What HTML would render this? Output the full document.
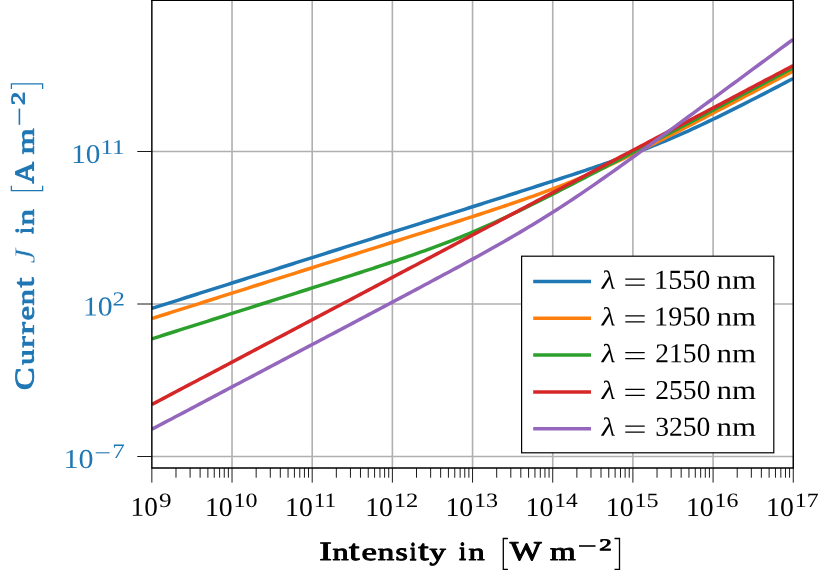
<!DOCTYPE html>
<html lang="en"><head><meta charset="utf-8"><title>chart</title><style>html,body{margin:0;padding:0;background:#fff}svg{display:block;will-change:transform}</style></head><body>
<svg width="831" height="580" viewBox="0 0 831 580" font-family="&quot;Liberation Serif&quot;, serif">
<rect width="831" height="580" fill="#fff"/>
<line x1="232.02" y1="0" x2="232.02" y2="468.0" stroke="#b0b0b0" stroke-width="1.6"/>
<line x1="312.20" y1="0" x2="312.20" y2="468.0" stroke="#b0b0b0" stroke-width="1.6"/>
<line x1="392.38" y1="0" x2="392.38" y2="468.0" stroke="#b0b0b0" stroke-width="1.6"/>
<line x1="472.55" y1="0" x2="472.55" y2="468.0" stroke="#b0b0b0" stroke-width="1.6"/>
<line x1="552.73" y1="0" x2="552.73" y2="468.0" stroke="#b0b0b0" stroke-width="1.6"/>
<line x1="632.90" y1="0" x2="632.90" y2="468.0" stroke="#b0b0b0" stroke-width="1.6"/>
<line x1="713.08" y1="0" x2="713.08" y2="468.0" stroke="#b0b0b0" stroke-width="1.6"/>
<line x1="151.85" y1="151.5" x2="793.25" y2="151.5" stroke="#b0b0b0" stroke-width="1.6"/>
<line x1="151.85" y1="304.0" x2="793.25" y2="304.0" stroke="#b0b0b0" stroke-width="1.6"/>
<line x1="151.85" y1="456.5" x2="793.25" y2="456.5" stroke="#b0b0b0" stroke-width="1.6"/>
<clipPath id="c"><rect x="151.85" y="0" width="641.4" height="468.0"/></clipPath>
<g clip-path="url(#c)" fill="none" stroke-width="3.5" stroke-linejoin="round">
<polyline points="151.85,308.45 155.86,307.18 159.87,305.91 163.88,304.64 167.88,303.36 171.89,302.09 175.90,300.82 179.91,299.55 183.92,298.28 187.93,297.01 191.94,295.74 195.95,294.47 199.95,293.20 203.96,291.93 207.97,290.66 211.98,289.39 215.99,288.11 220.00,286.84 224.01,285.57 228.02,284.30 232.02,283.03 236.03,281.76 240.04,280.49 244.05,279.22 248.06,277.95 252.07,276.68 256.08,275.41 260.09,274.13 264.10,272.86 268.10,271.59 272.11,270.32 276.12,269.05 280.13,267.78 284.14,266.51 288.15,265.24 292.16,263.97 296.16,262.70 300.17,261.43 304.18,260.16 308.19,258.88 312.20,257.61 316.21,256.34 320.22,255.07 324.23,253.80 328.24,252.53 332.24,251.26 336.25,249.99 340.26,248.72 344.27,247.45 348.28,246.18 352.29,244.91 356.30,243.63 360.30,242.36 364.31,241.09 368.32,239.82 372.33,238.55 376.34,237.28 380.35,236.01 384.36,234.74 388.37,233.47 392.38,232.19 396.38,230.92 400.39,229.65 404.40,228.38 408.41,227.11 412.42,225.84 416.43,224.57 420.44,223.30 424.44,222.02 428.45,220.75 432.46,219.48 436.47,218.21 440.48,216.94 444.49,215.66 448.50,214.39 452.51,213.12 456.51,211.85 460.52,210.57 464.53,209.30 468.54,208.03 472.55,206.75 476.56,205.48 480.57,204.21 484.58,202.93 488.59,201.66 492.59,200.38 496.60,199.10 500.61,197.83 504.62,196.55 508.63,195.27 512.64,193.99 516.65,192.71 520.65,191.43 524.66,190.14 528.67,188.86 532.68,187.57 536.69,186.28 540.70,184.99 544.71,183.70 548.72,182.40 552.73,181.10 556.73,179.80 560.74,178.49 564.75,177.18 568.76,175.87 572.77,174.55 576.78,173.22 580.79,171.89 584.79,170.56 588.80,169.21 592.81,167.86 596.82,166.49 600.83,165.12 604.84,163.74 608.85,162.34 612.86,160.93 616.87,159.51 620.87,158.08 624.88,156.62 628.89,155.15 632.90,153.67 636.91,152.16 640.92,150.64 644.93,149.09 648.93,147.52 652.94,145.93 656.95,144.31 660.96,142.67 664.97,141.01 668.98,139.32 672.99,137.61 677.00,135.88 681.00,134.12 685.01,132.33 689.02,130.53 693.03,128.70 697.04,126.85 701.05,124.98 705.06,123.09 709.07,121.18 713.08,119.25 717.08,117.31 721.09,115.35 725.10,113.38 729.11,111.39 733.12,109.39 737.13,107.38 741.14,105.36 745.14,103.33 749.15,101.29 753.16,99.25 757.17,97.19 761.18,95.13 765.19,93.07 769.20,90.99 773.21,88.92 777.22,86.84 781.22,84.75 785.23,82.66 789.24,80.57 793.25,78.48" stroke="#1f77b4"/>
<polyline points="151.85,318.55 155.86,317.28 159.87,316.01 163.88,314.74 167.88,313.46 171.89,312.19 175.90,310.92 179.91,309.65 183.92,308.38 187.93,307.11 191.94,305.84 195.95,304.57 199.95,303.30 203.96,302.03 207.97,300.76 211.98,299.48 215.99,298.21 220.00,296.94 224.01,295.67 228.02,294.40 232.02,293.13 236.03,291.86 240.04,290.59 244.05,289.32 248.06,288.05 252.07,286.78 256.08,285.51 260.09,284.23 264.10,282.96 268.10,281.69 272.11,280.42 276.12,279.15 280.13,277.88 284.14,276.61 288.15,275.34 292.16,274.07 296.16,272.80 300.17,271.52 304.18,270.25 308.19,268.98 312.20,267.71 316.21,266.44 320.22,265.17 324.23,263.90 328.24,262.63 332.24,261.35 336.25,260.08 340.26,258.81 344.27,257.54 348.28,256.27 352.29,255.00 356.30,253.72 360.30,252.45 364.31,251.18 368.32,249.91 372.33,248.63 376.34,247.36 380.35,246.09 384.36,244.82 388.37,243.54 392.38,242.27 396.38,240.99 400.39,239.72 404.40,238.44 408.41,237.17 412.42,235.89 416.43,234.61 420.44,233.33 424.44,232.06 428.45,230.78 432.46,229.49 436.47,228.21 440.48,226.93 444.49,225.64 448.50,224.36 452.51,223.07 456.51,221.78 460.52,220.48 464.53,219.19 468.54,217.89 472.55,216.59 476.56,215.28 480.57,213.97 484.58,212.66 488.59,211.34 492.59,210.01 496.60,208.68 500.61,207.34 504.62,206.00 508.63,204.64 512.64,203.28 516.65,201.91 520.65,200.52 524.66,199.13 528.67,197.72 532.68,196.30 536.69,194.86 540.70,193.41 544.71,191.94 548.72,190.45 552.73,188.95 556.73,187.42 560.74,185.87 564.75,184.30 568.76,182.71 572.77,181.10 576.78,179.46 580.79,177.79 584.79,176.11 588.80,174.39 592.81,172.66 596.82,170.90 600.83,169.12 604.84,167.31 608.85,165.48 612.86,163.63 616.87,161.76 620.87,159.87 624.88,157.96 628.89,156.03 632.90,154.09 636.91,152.13 640.92,150.16 644.93,148.17 648.93,146.17 652.94,144.16 656.95,142.14 660.96,140.11 664.97,138.07 668.98,136.03 672.99,133.97 677.00,131.91 681.00,129.85 685.01,127.77 689.02,125.70 693.03,123.62 697.04,121.53 701.05,119.44 705.06,117.35 709.07,115.26 713.08,113.16 717.08,111.06 721.09,108.96 725.10,106.86 729.11,104.76 733.12,102.65 737.13,100.54 741.14,98.43 745.14,96.32 749.15,94.21 753.16,92.10 757.17,89.99 761.18,87.88 765.19,85.77 769.20,83.65 773.21,81.54 777.22,79.42 781.22,77.31 785.23,75.19 789.24,73.08 793.25,70.96" stroke="#ff7f0e"/>
<polyline points="151.85,338.85 155.86,337.58 159.87,336.30 163.88,335.03 167.88,333.76 171.89,332.49 175.90,331.22 179.91,329.95 183.92,328.68 187.93,327.41 191.94,326.14 195.95,324.87 199.95,323.59 203.96,322.32 207.97,321.05 211.98,319.78 215.99,318.51 220.00,317.24 224.01,315.97 228.02,314.70 232.02,313.42 236.03,312.15 240.04,310.88 244.05,309.61 248.06,308.34 252.07,307.06 256.08,305.79 260.09,304.52 264.10,303.25 268.10,301.97 272.11,300.70 276.12,299.43 280.13,298.15 284.14,296.88 288.15,295.60 292.16,294.33 296.16,293.05 300.17,291.78 304.18,290.50 308.19,289.22 312.20,287.94 316.21,286.66 320.22,285.38 324.23,284.10 328.24,282.82 332.24,281.53 336.25,280.24 340.26,278.96 344.27,277.67 348.28,276.37 352.29,275.08 356.30,273.78 360.30,272.48 364.31,271.17 368.32,269.86 372.33,268.55 376.34,267.23 380.35,265.91 384.36,264.58 388.37,263.24 392.38,261.90 396.38,260.55 400.39,259.19 404.40,257.82 408.41,256.44 412.42,255.05 416.43,253.64 420.44,252.22 424.44,250.79 428.45,249.34 432.46,247.88 436.47,246.39 440.48,244.89 444.49,243.37 448.50,241.83 452.51,240.27 456.51,238.68 460.52,237.07 464.53,235.44 468.54,233.78 472.55,232.10 476.56,230.40 480.57,228.67 484.58,226.91 488.59,225.14 492.59,223.33 496.60,221.51 500.61,219.67 504.62,217.80 508.63,215.92 512.64,214.01 516.65,212.09 520.65,210.15 524.66,208.19 528.67,206.23 532.68,204.24 536.69,202.25 540.70,200.24 544.71,198.22 548.72,196.19 552.73,194.16 556.73,192.11 560.74,190.06 564.75,188.00 568.76,185.94 572.77,183.87 576.78,181.79 580.79,179.71 584.79,177.63 588.80,175.54 592.81,173.45 596.82,171.36 600.83,169.26 604.84,167.16 608.85,165.06 612.86,162.96 616.87,160.86 620.87,158.75 624.88,156.64 628.89,154.54 632.90,152.43 636.91,150.32 640.92,148.21 644.93,146.10 648.93,143.98 652.94,141.87 656.95,139.76 660.96,137.64 664.97,135.53 668.98,133.41 672.99,131.30 677.00,129.18 681.00,127.07 685.01,124.95 689.02,122.83 693.03,120.72 697.04,118.60 701.05,116.48 705.06,114.37 709.07,112.25 713.08,110.13 717.08,108.02 721.09,105.90 725.10,103.78 729.11,101.66 733.12,99.55 737.13,97.43 741.14,95.31 745.14,93.19 749.15,91.08 753.16,88.96 757.17,86.84 761.18,84.72 765.19,82.60 769.20,80.49 773.21,78.37 777.22,76.25 781.22,74.13 785.23,72.01 789.24,69.90 793.25,67.78" stroke="#2ca02c"/>
<polyline points="151.85,404.48 155.86,402.36 159.87,400.24 163.88,398.13 167.88,396.01 171.89,393.89 175.90,391.77 179.91,389.65 183.92,387.53 187.93,385.42 191.94,383.30 195.95,381.18 199.95,379.06 203.96,376.94 207.97,374.83 211.98,372.71 215.99,370.59 220.00,368.47 224.01,366.35 228.02,364.24 232.02,362.12 236.03,360.00 240.04,357.88 244.05,355.76 248.06,353.65 252.07,351.53 256.08,349.41 260.09,347.29 264.10,345.17 268.10,343.06 272.11,340.94 276.12,338.82 280.13,336.70 284.14,334.58 288.15,332.47 292.16,330.35 296.16,328.23 300.17,326.11 304.18,323.99 308.19,321.88 312.20,319.76 316.21,317.64 320.22,315.52 324.23,313.40 328.24,311.28 332.24,309.17 336.25,307.05 340.26,304.93 344.27,302.81 348.28,300.69 352.29,298.58 356.30,296.46 360.30,294.34 364.31,292.22 368.32,290.10 372.33,287.99 376.34,285.87 380.35,283.75 384.36,281.63 388.37,279.51 392.38,277.40 396.38,275.28 400.39,273.16 404.40,271.04 408.41,268.92 412.42,266.81 416.43,264.69 420.44,262.57 424.44,260.45 428.45,258.33 432.46,256.22 436.47,254.10 440.48,251.98 444.49,249.86 448.50,247.74 452.51,245.63 456.51,243.51 460.52,241.39 464.53,239.27 468.54,237.15 472.55,235.03 476.56,232.92 480.57,230.80 484.58,228.68 488.59,226.56 492.59,224.44 496.60,222.33 500.61,220.21 504.62,218.09 508.63,215.97 512.64,213.85 516.65,211.74 520.65,209.62 524.66,207.50 528.67,205.38 532.68,203.26 536.69,201.15 540.70,199.03 544.71,196.91 548.72,194.79 552.73,192.67 556.73,190.56 560.74,188.44 564.75,186.32 568.76,184.20 572.77,182.08 576.78,179.97 580.79,177.85 584.79,175.73 588.80,173.61 592.81,171.49 596.82,169.38 600.83,167.26 604.84,165.14 608.85,163.02 612.86,160.90 616.87,158.78 620.87,156.67 624.88,154.55 628.89,152.43 632.90,150.31 636.91,148.19 640.92,146.08 644.93,143.96 648.93,141.84 652.94,139.72 656.95,137.60 660.96,135.49 664.97,133.37 668.98,131.25 672.99,129.13 677.00,127.01 681.00,124.90 685.01,122.78 689.02,120.66 693.03,118.54 697.04,116.42 701.05,114.31 705.06,112.19 709.07,110.07 713.08,107.95 717.08,105.83 721.09,103.72 725.10,101.60 729.11,99.48 733.12,97.36 737.13,95.24 741.14,93.13 745.14,91.01 749.15,88.89 753.16,86.77 757.17,84.65 761.18,82.53 765.19,80.42 769.20,78.30 773.21,76.18 777.22,74.06 781.22,71.94 785.23,69.83 789.24,67.71 793.25,65.59" stroke="#d62728"/>
<polyline points="151.85,429.28 155.86,427.16 159.87,425.04 163.88,422.92 167.88,420.81 171.89,418.69 175.90,416.57 179.91,414.45 183.92,412.33 187.93,410.22 191.94,408.10 195.95,405.98 199.95,403.86 203.96,401.74 207.97,399.63 211.98,397.51 215.99,395.39 220.00,393.27 224.01,391.15 228.02,389.04 232.02,386.92 236.03,384.80 240.04,382.68 244.05,380.56 248.06,378.44 252.07,376.33 256.08,374.21 260.09,372.09 264.10,369.97 268.10,367.85 272.11,365.74 276.12,363.62 280.13,361.50 284.14,359.38 288.15,357.26 292.16,355.14 296.16,353.02 300.17,350.91 304.18,348.79 308.19,346.67 312.20,344.55 316.21,342.43 320.22,340.31 324.23,338.19 328.24,336.07 332.24,333.95 336.25,331.83 340.26,329.71 344.27,327.59 348.28,325.47 352.29,323.35 356.30,321.23 360.30,319.11 364.31,316.99 368.32,314.87 372.33,312.74 376.34,310.62 380.35,308.50 384.36,306.37 388.37,304.25 392.38,302.12 396.38,299.99 400.39,297.86 404.40,295.74 408.41,293.60 412.42,291.47 416.43,289.34 420.44,287.20 424.44,285.06 428.45,282.92 432.46,280.78 436.47,278.63 440.48,276.48 444.49,274.33 448.50,272.17 452.51,270.01 456.51,267.84 460.52,265.67 464.53,263.49 468.54,261.30 472.55,259.11 476.56,256.91 480.57,254.70 484.58,252.48 488.59,250.25 492.59,248.00 496.60,245.75 500.61,243.48 504.62,241.19 508.63,238.89 512.64,236.57 516.65,234.24 520.65,231.88 524.66,229.51 528.67,227.11 532.68,224.69 536.69,222.25 540.70,219.79 544.71,217.30 548.72,214.79 552.73,212.25 556.73,209.69 560.74,207.10 564.75,204.49 568.76,201.86 572.77,199.21 576.78,196.53 580.79,193.83 584.79,191.11 588.80,188.37 592.81,185.61 596.82,182.84 600.83,180.04 604.84,177.24 608.85,174.42 612.86,171.58 616.87,168.73 620.87,165.88 624.88,163.01 628.89,160.13 632.90,157.24 636.91,154.35 640.92,151.45 644.93,148.54 648.93,145.63 652.94,142.71 656.95,139.78 660.96,136.85 664.97,133.92 668.98,130.99 672.99,128.05 677.00,125.11 681.00,122.16 685.01,119.22 689.02,116.27 693.03,113.32 697.04,110.37 701.05,107.41 705.06,104.46 709.07,101.50 713.08,98.55 717.08,95.59 721.09,92.63 725.10,89.67 729.11,86.71 733.12,83.75 737.13,80.79 741.14,77.83 745.14,74.87 749.15,71.90 753.16,68.94 757.17,65.98 761.18,63.02 765.19,60.05 769.20,57.09 773.21,54.12 777.22,51.16 781.22,48.20 785.23,45.23 789.24,42.27 793.25,39.30" stroke="#9467bd"/>
</g>
<path d="M151.85 468.0V482.6 M175.99 468.0V477.7 M190.10 468.0V477.7 M200.12 468.0V477.7 M207.89 468.0V477.7 M214.24 468.0V477.7 M219.61 468.0V477.7 M224.26 468.0V477.7 M228.36 468.0V477.7 M232.02 468.0V482.6 M256.16 468.0V477.7 M270.28 468.0V477.7 M280.30 468.0V477.7 M288.06 468.0V477.7 M294.41 468.0V477.7 M299.78 468.0V477.7 M304.43 468.0V477.7 M308.53 468.0V477.7 M312.20 468.0V482.6 M336.34 468.0V477.7 M350.45 468.0V477.7 M360.47 468.0V477.7 M368.24 468.0V477.7 M374.59 468.0V477.7 M379.96 468.0V477.7 M384.61 468.0V477.7 M388.71 468.0V477.7 M392.38 468.0V482.6 M416.51 468.0V477.7 M430.63 468.0V477.7 M440.65 468.0V477.7 M448.41 468.0V477.7 M454.76 468.0V477.7 M460.13 468.0V477.7 M464.78 468.0V477.7 M468.88 468.0V477.7 M472.55 468.0V482.6 M496.69 468.0V477.7 M510.80 468.0V477.7 M520.82 468.0V477.7 M528.59 468.0V477.7 M534.94 468.0V477.7 M540.31 468.0V477.7 M544.96 468.0V477.7 M549.06 468.0V477.7 M552.73 468.0V482.6 M576.86 468.0V477.7 M590.98 468.0V477.7 M601.00 468.0V477.7 M608.76 468.0V477.7 M615.11 468.0V477.7 M620.48 468.0V477.7 M625.13 468.0V477.7 M629.23 468.0V477.7 M632.90 468.0V482.6 M657.04 468.0V477.7 M671.15 468.0V477.7 M681.17 468.0V477.7 M688.94 468.0V477.7 M695.29 468.0V477.7 M700.66 468.0V477.7 M705.31 468.0V477.7 M709.41 468.0V477.7 M713.08 468.0V482.6 M737.21 468.0V477.7 M751.33 468.0V477.7 M761.35 468.0V477.7 M769.11 468.0V477.7 M775.46 468.0V477.7 M780.83 468.0V477.7 M785.48 468.0V477.7 M789.58 468.0V477.7 M793.25 468.0V482.6 M151.85 151.5H137.25 M151.85 304.0H137.25 M151.85 456.5H137.25" stroke="#000" stroke-width="0.9" fill="none"/>
<path d="M151.85 0V468.0H793.25V0" stroke="#000" stroke-width="1.45" fill="none" stroke-linejoin="miter"/>
<path d="M151.15 0.2H793.95" stroke="#000" stroke-width="1.45" fill="none"/>
<text transform="translate(130.62,515.80) rotate(0.03) scale(0.2720,0.2692)" font-size="100.0"  fill="#000" >10</text>
<text transform="translate(158.88,507.00) rotate(0.03) scale(0.2526,0.2038)" font-size="100.0"  fill="#000" >9</text>
<text transform="translate(204.89,515.90) rotate(0.03) scale(0.2777,0.2692)" font-size="100.0"  fill="#000" >10</text>
<text transform="translate(233.51,507.00) rotate(0.03) scale(0.2411,0.2030)" font-size="100.0"  fill="#000" >10</text>
<text transform="translate(285.07,515.90) rotate(0.03) scale(0.2777,0.2692)" font-size="100.0"  fill="#000" >10</text>
<text transform="translate(313.76,507.00) rotate(0.03) scale(0.2331,0.2045)" font-size="100.0"  fill="#000" >11</text>
<text transform="translate(365.25,515.90) rotate(0.03) scale(0.2777,0.2692)" font-size="100.0"  fill="#000" >10</text>
<text transform="translate(393.82,507.00) rotate(0.03) scale(0.2461,0.2038)" font-size="100.0"  fill="#000" >12</text>
<text transform="translate(445.42,515.90) rotate(0.03) scale(0.2777,0.2692)" font-size="100.0"  fill="#000" >10</text>
<text transform="translate(474.03,507.00) rotate(0.03) scale(0.2418,0.2038)" font-size="100.0"  fill="#000" >13</text>
<text transform="translate(525.60,515.90) rotate(0.03) scale(0.2777,0.2692)" font-size="100.0"  fill="#000" >10</text>
<text transform="translate(554.27,507.00) rotate(0.03) scale(0.2351,0.2045)" font-size="100.0"  fill="#000" >14</text>
<text transform="translate(605.77,515.90) rotate(0.03) scale(0.2777,0.2692)" font-size="100.0"  fill="#000" >10</text>
<text transform="translate(634.38,507.00) rotate(0.03) scale(0.2418,0.2045)" font-size="100.0"  fill="#000" >15</text>
<text transform="translate(685.94,515.90) rotate(0.03) scale(0.2777,0.2692)" font-size="100.0"  fill="#000" >10</text>
<text transform="translate(714.58,507.00) rotate(0.03) scale(0.2391,0.2038)" font-size="100.0"  fill="#000" >16</text>
<text transform="translate(766.12,515.90) rotate(0.03) scale(0.2777,0.2692)" font-size="100.0"  fill="#000" >10</text>
<text transform="translate(794.76,507.00) rotate(0.03) scale(0.2384,0.2045)" font-size="100.0"  fill="#000" >17</text>
<text transform="translate(71.14,163.00) rotate(0.03) scale(0.2926,0.2707)" font-size="100.0"  fill="#1f77b4" >10</text>
<text transform="translate(100.40,153.90) rotate(0.03) scale(0.2515,0.2076)" font-size="100.0"  fill="#1f77b4" >11</text>
<text transform="translate(82.90,315.60) rotate(0.03) scale(0.2971,0.2737)" font-size="100.0"  fill="#1f77b4" >10</text>
<text transform="translate(112.44,305.60) rotate(0.03) scale(0.2484,0.1992)" font-size="100.0"  fill="#1f77b4" >2</text>
<text transform="translate(63.47,467.90) rotate(0.03) scale(0.3006,0.2737)" font-size="100.0"  fill="#1f77b4" >10</text>
<text transform="translate(112.27,458.10) rotate(0.03) scale(0.2503,0.2076)" font-size="100.0"  fill="#1f77b4" >7</text>
<line x1="95.7" x2="109.6" y1="452.8" y2="452.8" stroke="#1f77b4" stroke-width="1.1"/>
<text transform="translate(319.30,559.96) rotate(0.03) scale(0.3790,0.2645)" font-size="100.0"  fill="#000" stroke="#000" stroke-width="3.30" stroke-linejoin="round">I</text>
<text transform="translate(332.60,559.94) rotate(0.03) scale(0.3232,0.2398)" font-size="100.0"  fill="#000" stroke="#000" stroke-width="3.87" stroke-linejoin="round">n</text>
<text transform="translate(349.05,559.92) rotate(0.03) scale(0.3790,0.2893)" font-size="100.0"  fill="#000" stroke="#000" stroke-width="3.30" stroke-linejoin="round">t</text>
<text transform="translate(361.44,559.96) rotate(0.03) scale(0.3473,0.2470)" font-size="100.0"  fill="#000" stroke="#000" stroke-width="3.60" stroke-linejoin="round">e</text>
<text transform="translate(377.68,559.94) rotate(0.03) scale(0.3297,0.2402)" font-size="100.0"  fill="#000" stroke="#000" stroke-width="3.79" stroke-linejoin="round">n</text>
<text transform="translate(395.46,559.91) rotate(0.03) scale(0.3152,0.2453)" font-size="100.0"  fill="#000" stroke="#000" stroke-width="3.97" stroke-linejoin="round">s</text>
<text transform="translate(409.98,559.68) rotate(0.03) scale(0.2229,0.2561)" font-size="100.0"  fill="#000" stroke="#000" stroke-width="5.61" stroke-linejoin="round">i</text>
<text transform="translate(418.15,559.92) rotate(0.03) scale(0.3752,0.2891)" font-size="100.0"  fill="#000" stroke="#000" stroke-width="3.33" stroke-linejoin="round">t</text>
<text transform="translate(429.52,559.94) rotate(0.03) scale(0.3258,0.2408)" font-size="100.0"  fill="#000" stroke="#000" stroke-width="3.84" stroke-linejoin="round">y</text>
<text transform="translate(459.35,559.73) rotate(0.03) scale(0.2396,0.2575)" font-size="100.0"  fill="#000" stroke="#000" stroke-width="5.22" stroke-linejoin="round">i</text>
<text transform="translate(468.50,559.94) rotate(0.03) scale(0.3232,0.2398)" font-size="100.0"  fill="#000" stroke="#000" stroke-width="3.87" stroke-linejoin="round">n</text>
<text transform="translate(509.82,560.10) rotate(0.03) scale(0.3369,0.2702)" font-size="100.0"  fill="#000" stroke="#000" stroke-width="3.71" stroke-linejoin="round">W</text>
<text transform="translate(549.96,560.02) rotate(0.03) scale(0.3306,0.2540)" font-size="100.0"  fill="#000" stroke="#000" stroke-width="3.78" stroke-linejoin="round">m</text>
<line x1="579.0" x2="595.5" y1="546" y2="546" stroke="#000" stroke-width="1.6"/>
<text transform="translate(599.36,550.19) rotate(0.03) scale(0.2497,0.1656)" font-size="100.0"  fill="#000" stroke="#000" stroke-width="5.01" stroke-linejoin="round">2</text>
<path d="M507.9 538.5H503.3V569.4H507.9" fill="none" stroke="#000" stroke-width="1.3"/>
<path d="M614.5 538.5H619.5V569.4H614.5" fill="none" stroke="#000" stroke-width="1.3"/>
<g transform="translate(0,388.2) rotate(-90)">
<text transform="translate(-1.73,33.60) rotate(0.03) scale(0.3380,0.2702)" font-size="100.0"  fill="#1f77b4" stroke="#1f77b4" stroke-width="3.70" stroke-linejoin="round">C</text>
<text transform="translate(23.44,33.62) rotate(0.03) scale(0.3074,0.2377)" font-size="100.0"  fill="#1f77b4" stroke="#1f77b4" stroke-width="4.07" stroke-linejoin="round">u</text>
<text transform="translate(40.33,33.67) rotate(0.03) scale(0.3459,0.2391)" font-size="100.0"  fill="#1f77b4" stroke="#1f77b4" stroke-width="3.61" stroke-linejoin="round">r</text>
<text transform="translate(53.78,33.70) rotate(0.03) scale(0.3721,0.2403)" font-size="100.0"  fill="#1f77b4" stroke="#1f77b4" stroke-width="3.36" stroke-linejoin="round">r</text>
<text transform="translate(67.73,33.64) rotate(0.03) scale(0.3243,0.2379)" font-size="100.0"  fill="#1f77b4" stroke="#1f77b4" stroke-width="3.85" stroke-linejoin="round">e</text>
<text transform="translate(83.00,33.64) rotate(0.03) scale(0.3211,0.2378)" font-size="100.0"  fill="#1f77b4" stroke="#1f77b4" stroke-width="3.89" stroke-linejoin="round">n</text>
<text transform="translate(100.66,33.60) rotate(0.03) scale(0.3600,0.2868)" font-size="100.0"  fill="#1f77b4" stroke="#1f77b4" stroke-width="3.47" stroke-linejoin="round">t</text>
<text transform="translate(154.59,33.36) rotate(0.03) scale(0.2187,0.2585)" font-size="100.0"  fill="#1f77b4" stroke="#1f77b4" stroke-width="5.71" stroke-linejoin="round">i</text>
<text transform="translate(162.69,33.65) rotate(0.03) scale(0.3276,0.2381)" font-size="100.0"  fill="#1f77b4" stroke="#1f77b4" stroke-width="3.82" stroke-linejoin="round">n</text>
<text transform="translate(124.80,34.50) rotate(0.03) scale(0.3316,0.2931)" font-size="100.0" font-style="italic" fill="#1f77b4" stroke="#fff" stroke-width="1.0">J</text>
<text transform="translate(204.63,33.53) rotate(0.03) scale(0.2986,0.2707)" font-size="100.0"  fill="#1f77b4" stroke="#1f77b4" stroke-width="4.19" stroke-linejoin="round">A</text>
<text transform="translate(233.86,33.65) rotate(0.03) scale(0.3333,0.2404)" font-size="100.0"  fill="#1f77b4" stroke="#1f77b4" stroke-width="3.75" stroke-linejoin="round">m</text>
<line x1="263.40" x2="279.60" y1="19.4" y2="19.4" stroke="#1f77b4" stroke-width="1.6"/>
<text transform="translate(283.20,24.54) rotate(0.03) scale(0.2646,0.1944)" font-size="100.0"  fill="#1f77b4" stroke="#1f77b4" stroke-width="4.72" stroke-linejoin="round">2</text>
<path d="M202.5 11.4H197.5V42.6H202.5" fill="none" stroke="#1f77b4" stroke-width="1.3"/>
<path d="M299.29999999999995 11.4H304.4V42.6H299.29999999999995" fill="none" stroke="#1f77b4" stroke-width="1.3"/>
</g>
<rect x="521.6" y="256.2" width="252.19999999999993" height="196.60000000000002" fill="#fff" stroke="#000" stroke-width="1.2"/>
<line x1="533.2" x2="591" y1="281.50" y2="281.50" stroke="#1f77b4" stroke-width="3.5"/>
<text transform="translate(600.14,288.70) rotate(0.03) scale(0.3033,0.2624) skewX(-6)" font-size="100.0"  fill="#000" >λ</text>
<path d="M625.3 279.15H644.7M625.3 285.05H644.7" stroke="#000" stroke-width="1.15"/>
<text transform="translate(654.03,288.70) rotate(0.03) scale(0.2821,0.2737)" font-size="100.0"  fill="#000" >1550</text>
<text transform="translate(716.50,288.70) rotate(0.03) scale(0.3097,0.2681)" font-size="100.0"  fill="#000" >nm</text>
<line x1="533.2" x2="591" y1="318.30" y2="318.30" stroke="#ff7f0e" stroke-width="3.5"/>
<text transform="translate(600.14,325.45) rotate(0.03) scale(0.3033,0.2624) skewX(-6)" font-size="100.0"  fill="#000" >λ</text>
<path d="M625.3 315.90H644.7M625.3 321.80H644.7" stroke="#000" stroke-width="1.15"/>
<text transform="translate(654.03,325.45) rotate(0.03) scale(0.2821,0.2737)" font-size="100.0"  fill="#000" >1950</text>
<text transform="translate(716.50,325.45) rotate(0.03) scale(0.3097,0.2681)" font-size="100.0"  fill="#000" >nm</text>
<line x1="533.2" x2="591" y1="355.10" y2="355.10" stroke="#2ca02c" stroke-width="3.5"/>
<text transform="translate(600.14,362.20) rotate(0.03) scale(0.3033,0.2624) skewX(-6)" font-size="100.0"  fill="#000" >λ</text>
<path d="M625.3 352.65H644.7M625.3 358.55H644.7" stroke="#000" stroke-width="1.15"/>
<text transform="translate(655.33,362.20) rotate(0.03) scale(0.2755,0.2737)" font-size="100.0"  fill="#000" >2150</text>
<text transform="translate(716.50,362.20) rotate(0.03) scale(0.3097,0.2681)" font-size="100.0"  fill="#000" >nm</text>
<line x1="533.2" x2="591" y1="391.90" y2="391.90" stroke="#d62728" stroke-width="3.5"/>
<text transform="translate(600.14,398.95) rotate(0.03) scale(0.3033,0.2624) skewX(-6)" font-size="100.0"  fill="#000" >λ</text>
<path d="M625.3 389.40H644.7M625.3 395.30H644.7" stroke="#000" stroke-width="1.15"/>
<text transform="translate(655.33,398.95) rotate(0.03) scale(0.2755,0.2737)" font-size="100.0"  fill="#000" >2550</text>
<text transform="translate(716.50,398.95) rotate(0.03) scale(0.3097,0.2681)" font-size="100.0"  fill="#000" >nm</text>
<line x1="533.2" x2="591" y1="428.70" y2="428.70" stroke="#9467bd" stroke-width="3.5"/>
<text transform="translate(600.14,435.70) rotate(0.03) scale(0.3033,0.2624) skewX(-6)" font-size="100.0"  fill="#000" >λ</text>
<path d="M625.3 426.15H644.7M625.3 432.05H644.7" stroke="#000" stroke-width="1.15"/>
<text transform="translate(655.19,435.70) rotate(0.03) scale(0.2762,0.2737)" font-size="100.0"  fill="#000" >3250</text>
<text transform="translate(716.50,435.70) rotate(0.03) scale(0.3097,0.2681)" font-size="100.0"  fill="#000" >nm</text>
</svg>
</body></html>
